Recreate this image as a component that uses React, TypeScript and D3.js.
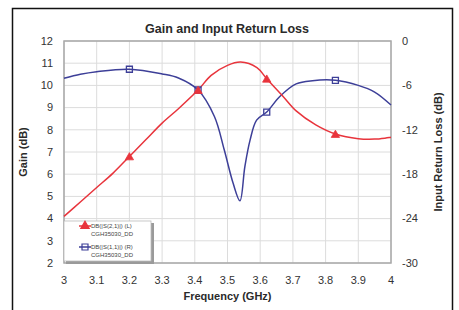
import * as React from 'react';
import * as d3 from 'd3';

// frequency (GHz) and gain (dB), red trace DB(|S(2,1)|)
const gainFreq = [3.0, 3.05, 3.1, 3.15, 3.2, 3.25, 3.3, 3.35, 3.41, 3.45, 3.5, 3.54, 3.59, 3.62, 3.67, 3.71, 3.77, 3.83, 3.9, 3.95, 4.0];
const gainDb = [4.1, 4.75, 5.4, 6.05, 6.8, 7.55, 8.3, 8.95, 9.79, 10.45, 10.9, 11.05, 10.8, 10.3, 9.5, 8.85, 8.22, 7.81, 7.6, 7.58, 7.66];

// input return loss, blue trace DB(|S(1,1)|)
const rlFreq = [3.0, 3.05, 3.1, 3.2, 3.3, 3.35, 3.41, 3.46, 3.49, 3.517, 3.538, 3.553, 3.569, 3.589, 3.62, 3.66, 3.71, 3.76, 3.83, 3.9, 3.95, 4.0];
const rlDb = [-5.04, -4.5, -4.15, -3.82, -4.45, -5.0, -6.62, -10.2, -14.7, -19.2, -21.6, -17.0, -13.4, -10.7, -9.6, -7.5, -5.8, -5.36, -5.31, -6.0, -6.9, -8.65];

const markerFreqs = [3.2, 3.41, 3.62, 3.83];

const xTicks = [3, 3.1, 3.2, 3.3, 3.4, 3.5, 3.6, 3.7, 3.8, 3.9, 4];
const gainTicks = [2, 3, 4, 5, 6, 7, 8, 9, 10, 11, 12];
const rlTicks = [0, -6, -12, -18, -24, -30];

const legendNames = ['DB(|S(2,1)|) (L)', 'DB(|S(1,1)|) (R)'];
const legendSub = 'CGH35030_DD';

const RED = '#e8343c';
const BLUE = '#3d3f98';
const FONT = '"Liberation Sans", Arial, sans-serif';

export default function App() {
  const ref = React.useRef<SVGSVGElement>(null);

  React.useEffect(() => {
    const W = 459, H = 310;
    const margin = { top: 41, right: 68, bottom: 47, left: 64 };
    const width = W - margin.left - margin.right;
    const height = H - margin.top - margin.bottom;

    const svg = d3.select(ref.current);
    svg.selectAll('*').remove();

    svg.append('rect').attr('width', W).attr('height', H).attr('fill', '#fff');
    // outer frame (bottom edge is cut off)
    svg.append('path')
      .attr('d', 'M12.5,' + (H + 2) + 'V8.5H452.5V' + (H + 2))
      .attr('fill', 'none').attr('stroke', '#111').attr('stroke-width', 1.5);

    svg.append('text')
      .attr('x', 227).attr('y', 33)
      .attr('text-anchor', 'middle')
      .attr('font-family', FONT).attr('font-weight', 'bold').attr('font-size', 12.5)
      .attr('fill', '#2a2a2a')
      .text('Gain and Input Return Loss');

    const g = svg.append('g').attr('transform', 'translate(' + margin.left + ',' + margin.top + ')');

    const x = d3.scaleLinear().domain([3, 4]).range([0, width]);
    const yL = d3.scaleLinear().domain([2, 12]).range([height, 0]);
    const yR = d3.scaleLinear().domain([-30, 0]).range([height, 0]);

    // grid
    g.append('g').selectAll('line').data(xTicks).join('line')
      .attr('x1', d => x(d)).attr('x2', d => x(d)).attr('y1', 0).attr('y2', height)
      .attr('stroke', '#dcdcdc').attr('stroke-width', 1);
    g.append('g').selectAll('line').data(gainTicks).join('line')
      .attr('y1', d => yL(d)).attr('y2', d => yL(d)).attr('x1', 0).attr('x2', width)
      .attr('stroke', '#dcdcdc').attr('stroke-width', 1);
    g.append('rect').attr('width', width).attr('height', height)
      .attr('fill', 'none').attr('stroke', '#a8a8a8').attr('stroke-width', 1.5);

    // tick labels
    const tickText = (sel: any) => sel
      .attr('font-family', FONT).attr('font-size', 11).attr('fill', '#333');
    g.append('g').selectAll('text').data(gainTicks).join('text')
      .attr('x', -11).attr('y', d => yL(d)).attr('dy', '0.35em')
      .attr('text-anchor', 'end').call(tickText).text(d => d);
    g.append('g').selectAll('text').data(rlTicks).join('text')
      .attr('x', width + 11).attr('y', d => yR(d)).attr('dy', '0.35em')
      .attr('text-anchor', 'start').call(tickText).text(d => d);
    g.append('g').selectAll('text').data(xTicks).join('text')
      .attr('x', d => x(d)).attr('y', height + 17).attr('dy', '0.35em')
      .attr('text-anchor', 'middle').call(tickText).text(d => d);

    // axis titles
    const titleText = (sel: any) => sel
      .attr('font-family', FONT).attr('font-size', 11).attr('font-weight', 'bold')
      .attr('fill', '#2a2a2a').attr('text-anchor', 'middle');
    g.append('text').attr('x', width / 2).attr('y', height + 33).attr('dy', '0.35em')
      .call(titleText).text('Frequency (GHz)');
    g.append('text')
      .attr('transform', 'translate(' + (23 - margin.left) + ',' + height / 2 + ') rotate(-90)')
      .attr('dy', '0.35em').call(titleText).text('Gain (dB)');
    g.append('text')
      .attr('transform', 'translate(' + (438 - margin.left) + ',' + height / 2 + ') rotate(-90)')
      .attr('dy', '0.35em').call(titleText).text('Input Return Loss (dB)');

    const gainData = gainFreq.map((f, i) => [f, gainDb[i]] as [number, number]);
    const rlData = rlFreq.map((f, i) => [f, rlDb[i]] as [number, number]);

    const gainLine = d3.line<[number, number]>()
      .x(d => x(d[0])).y(d => yL(d[1])).curve(d3.curveCatmullRom.alpha(0.5));
    const rlLine = d3.line<[number, number]>()
      .x(d => x(d[0])).y(d => yR(d[1])).curve(d3.curveCatmullRom.alpha(0.5));

    g.append('path').datum(rlData).attr('d', rlLine)
      .attr('fill', 'none').attr('stroke', BLUE).attr('stroke-width', 1.5);
    g.append('path').datum(gainData).attr('d', gainLine)
      .attr('fill', 'none').attr('stroke', RED).attr('stroke-width', 1.5);

    const tri = d3.symbol().type(d3.symbolTriangle).size(30);
    const sq = d3.symbol().type(d3.symbolSquare).size(36);

    const gainMarks = gainData.filter(d => markerFreqs.includes(d[0]));
    const rlMarks = rlData.filter(d => markerFreqs.includes(d[0]));

    g.append('g').selectAll('path').data(rlMarks).join('path')
      .attr('transform', d => 'translate(' + x(d[0]) + ',' + yR(d[1]) + ')')
      .attr('d', sq).attr('fill', 'none').attr('stroke', BLUE).attr('stroke-width', 1.3);
    g.append('g').selectAll('path').data(gainMarks).join('path')
      .attr('transform', d => 'translate(' + x(d[0]) + ',' + (yL(d[1]) + 1) + ')')
      .attr('d', tri).attr('fill', RED).attr('stroke', RED).attr('stroke-width', 0.8);

    // legend
    const lg = g.append('g').attr('transform', 'translate(0,' + (height - 42) + ')');
    lg.append('rect').attr('x', 2).attr('y', 2).attr('width', 88).attr('height', 41).attr('fill', '#9a9a9a');
    lg.append('rect').attr('x', 0).attr('y', 0).attr('width', 87).attr('height', 40)
      .attr('fill', '#fff').attr('stroke', '#bbb').attr('stroke-width', 0.8);
    const items = [
      { name: legendNames[0], color: RED, shape: tri, fill: RED },
      { name: legendNames[1], color: BLUE, shape: sq, fill: 'none' },
    ];
    items.forEach((it, i) => {
      const yy = 5 + i * 21;
      lg.append('line').attr('x1', 15).attr('x2', 27).attr('y1', yy).attr('y2', yy)
        .attr('stroke', it.color).attr('stroke-width', 1.5);
      lg.append('path').attr('transform', 'translate(21,' + yy + ')')
        .attr('d', it.shape).attr('fill', it.fill).attr('stroke', it.color).attr('stroke-width', 1.2);
      lg.append('text').attr('x', 27).attr('y', yy).attr('dy', '0.35em')
        .attr('font-family', FONT).attr('font-size', 6).attr('fill', '#444').text(it.name);
      lg.append('text').attr('x', 27).attr('y', yy + 8).attr('dy', '0.35em')
        .attr('font-family', FONT).attr('font-size', 6).attr('fill', '#444').text(legendSub);
    });
  }, []);

  return (
    <div style={{ position: 'fixed', left: 0, top: 0 }}>
      <svg ref={ref} width={459} height={310} style={{ display: 'block' }} />
    </div>
  );
}
